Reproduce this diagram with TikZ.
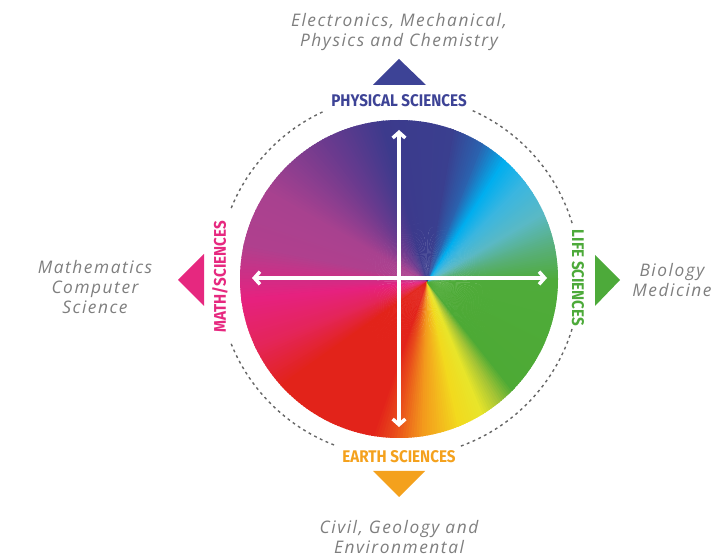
\documentclass[tikz,border=0pt]{standalone}
\usepackage{fontspec}
\usepackage{tikz}
\usetikzlibrary{arrows.meta}
\setmainfont{Open Sans}[LetterSpace=9]
\newfontfamily\catfont{Fira Sans}[FakeStretch=0.9]

\definecolor{physblue}{HTML}{3D4396}
\definecolor{mathpink}{HTML}{E6287F}
\definecolor{lifegreen}{HTML}{4DAA3A}
\definecolor{earthorange}{HTML}{F4A11D}
\definecolor{textgray}{HTML}{7E7E7E}
\definecolor{ringgray}{HTML}{666666}
% wheel stops, counter-clockwise from east
\definecolor{w0}{HTML}{4FAB3A}
\definecolor{w1}{HTML}{58AF78}
\definecolor{w2}{HTML}{5AB9C5}
\definecolor{w3}{HTML}{3BB6E0}
\definecolor{w4}{HTML}{00AEEF}
\definecolor{w5}{HTML}{2B62AE}
\definecolor{w6}{HTML}{3A3F8F}
\definecolor{w7}{HTML}{3C3A8C}
\definecolor{w8}{HTML}{6A3A8E}
\definecolor{w9}{HTML}{A8418F}
\definecolor{w10}{HTML}{B0408E}
\definecolor{w11}{HTML}{E6217F}
\definecolor{w12}{HTML}{E4255A}
\definecolor{w13}{HTML}{E2231A}
\definecolor{w14}{HTML}{E94E1B}
\definecolor{w15}{HTML}{F39A1C}
\definecolor{w16}{HTML}{F2DA1E}
\definecolor{w17}{HTML}{E8E52A}
\definecolor{w18}{HTML}{A7C535}
\definecolor{w19}{HTML}{4DAA35}

\begin{document}
\begin{tikzpicture}[
    x=0.025cm, y=0.025cm,
    desc/.style={font=\fontsize{12.3}{14.2}\selectfont\itshape, text=textgray, align=center},
    cat/.style={font=\catfont\bfseries\fontsize{12}{13}\selectfont},
    axis/.style={white, line width=2.5pt, {Straight Barb[length=4pt,width=9pt]}-{Straight Barb[length=4pt,width=9pt]}},
    ring/.style={ringgray, line width=1pt, dash pattern=on 2pt off 2.5pt}
  ]
  \useasboundingbox (0,0) rectangle (718,-556);

  \coordinate (c) at (399,-279);
  \coordinate (apex) at (427,-282);
  \coordinate (rc) at (399,-276);

  % colour wheel
  \begin{scope}
    \clip (c) circle (159);
    \foreach \a/\b/\ca/\cb in {0/15/w0/w1, 15/30/w1/w2, 30/45/w2/w3, 45/57/w3/w4,
        57/68/w4/w5, 68/80/w5/w6, 80/105/w6/w7, 105/125/w7/w8, 125/150/w8/w9,
        150/168/w9/w10, 168/185/w10/w11, 185/200/w11/w12, 200/215/w12/w13,
        215/250/w13/w13, 250/258/w13/w14, 258/268/w14/w15, 268/282/w15/w16,
        282/292/w16/w17, 292/300/w17/w18, 300/308/w18/w19, 308/360/w19/w0}{
      \foreach \t in {\a,...,\b}{
        \pgfmathtruncatemacro\p{100*(\t-\a)/(\b-\a)}
        \fill[\cb!\p!\ca] (apex) -- +(\t:300) -- +(\t+1.5:300) -- cycle;
      }
    }
  \end{scope}

  % axes
  \coordinate (n) at (399,-130);
  \coordinate (s) at (399,-427);
  \coordinate (w) at (252,-278);
  \coordinate (e) at (547,-278);
  \draw[axis] (n) -- (s);
  \draw[axis] (w) -- (e);

  % dashed ring, open at the four labels
  \draw[ring] (rc) ++(17:181) arc (17:67:181);
  \draw[ring] (rc) ++(115:181) arc (115:158:181);
  \draw[ring] (rc) ++(202:181) arc (202:250:181);
  \draw[ring] (rc) ++(290:181) arc (290:343:181);

  % pointers
  \fill[physblue] (373,-85) -- (399,-59) -- (426,-85) -- cycle;
  \fill[earthorange] (373,-471) -- (399,-497) -- (425,-471) -- cycle;
  \fill[mathpink] (204,-254) -- (178,-280) -- (204,-306) -- cycle;
  \fill[lifegreen] (595,-255) -- (620,-280) -- (595,-306) -- cycle;

  % category labels
  \node[cat, text=physblue] (phys) at (399,-101) {PHYSICAL SCIENCES};
  \node[cat, text=earthorange] (earth) at (399,-457) {EARTH SCIENCES};
  \node[cat, text=mathpink, rotate=90] (math) at (220,-277) {MATH/SCIENCES};
  \node[cat, text=lifegreen, rotate=-90] (life) at (578,-278) {LIFE SCIENCES};

  % fields
  \node[desc] (physd) at (399,-32) {Electronics, Mechanical,\\Physics and Chemistry};
  \node[desc] (earthd) at (399,-537) {Civil, Geology and\\Environmental};
  \node[desc] (mathd) at (95,-287) {Mathematics\\Computer\\Science};
  \node[desc] (lifed) at (672,-280) {Biology\\Medicine};
\end{tikzpicture}
\end{document}
